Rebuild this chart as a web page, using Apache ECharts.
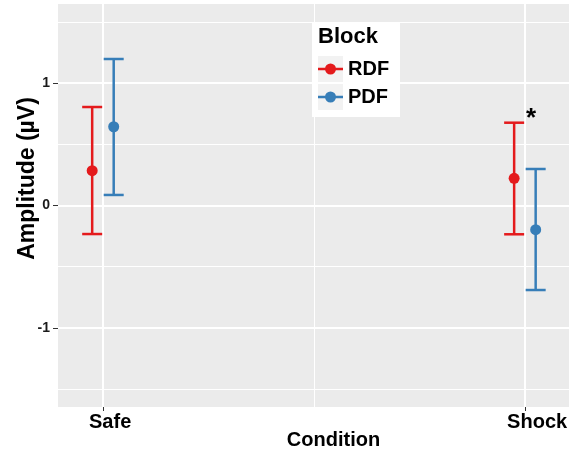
<!DOCTYPE html>
<html>
<head>
<meta charset="utf-8">
<title>Amplitude by condition</title>
<script src="https://cdn.jsdelivr.net/npm/echarts@6/dist/echarts.min.js"></script>
<style>
html, body { margin: 0; padding: 0; background: #fff; }
#chart { width: 571px; height: 450px; }
</style>
</head>
<body>
<div id="chart"></div>
<script>
// values
const conditions = ['Safe', 'Shock'];
const blocks = ['RDF', 'PDF'];
const rdfMean = [0.284, 0.222];
const rdfLow = [-0.233, -0.235];
const rdfHigh = [0.804, 0.676];
const pdfMean = [0.643, -0.197];
const pdfLow = [0.086, -0.69];
const pdfHigh = [1.196, 0.298];
const yTicks = [-1, 0, 1];
const yMinor = [-1.5, -0.5, 0.5, 1.5];
const xTicks = [1, 2];
const xMinor = [1.5];
// significance marks
const marks = [{ cond: 'Shock', text: '*', y: 0.71 }];

const colors = { RDF: '#E41A1C', PDF: '#377EB8' };
const dodge = { RDF: -0.026, PDF: 0.025 };
const font = "'Liberation Sans', Arial, sans-serif";
const stats = {
  RDF: { mean: rdfMean, low: rdfLow, high: rdfHigh },
  PDF: { mean: pdfMean, low: pdfLow, high: pdfHigh }
};
const xPos = c => conditions.indexOf(c) + 1;
const xMin = 0.893, xMax = 2.104, yMin = -1.645, yMax = 1.645;

function errorbarItem(params, api) {
  const x = api.value(0);
  const lo = api.coord([x, api.value(1)]);
  const hi = api.coord([x, api.value(2)]);
  const half = 10;
  const style = { stroke: api.visual('color'), lineWidth: 2.5, fill: null };
  return {
    type: 'group',
    children: [
      { type: 'line', shape: { x1: lo[0], y1: lo[1], x2: hi[0], y2: hi[1] }, style },
      { type: 'line', shape: { x1: hi[0] - half, y1: hi[1], x2: hi[0] + half, y2: hi[1] }, style },
      { type: 'line', shape: { x1: lo[0] - half, y1: lo[1], x2: lo[0] + half, y2: lo[1] }, style }
    ]
  };
}

const series = [];
blocks.forEach(b => {
  const s = stats[b];
  series.push({
    name: b,
    type: 'custom',
    renderItem: errorbarItem,
    itemStyle: { color: colors[b] },
    encode: { x: 0, y: [1, 2] },
    data: conditions.map((c, i) => [xPos(c) + dodge[b], s.low[i], s.high[i]]),
    z: 2
  });
  series.push({
    name: b,
    type: 'scatter',
    symbolSize: 11,
    itemStyle: { color: colors[b], opacity: 1 },
    data: conditions.map((c, i) => [xPos(c) + dodge[b], s.mean[i]]),
    z: 3
  });
});
series[1].markPoint = {
  symbol: 'circle',
  symbolSize: 1,
  itemStyle: { color: 'transparent' },
  label: {
    show: true, position: 'inside', offset: [6, 0],
    formatter: p => p.name,
    fontFamily: font, fontSize: 26, fontWeight: 'bold', color: '#000'
  },
  data: marks.map(m => ({ name: m.text, coord: [xPos(m.cond), m.y] }))
};

const boldText = { fontFamily: font, fontWeight: 'bold', color: '#000' };

const option = {
  animation: false,
  grid: {
    left: 58, top: 4, right: 2, bottom: 43,
    outerBoundsMode: 'none', containLabel: false,
    show: true, backgroundColor: '#EBEBEB', borderWidth: 0
  },
  title: {
    text: 'Block', left: 318, top: 26, padding: 0,
    textStyle: Object.assign({ fontSize: 22 }, boldText)
  },
  legend: {
    orient: 'vertical', left: 318, top: 56, padding: 0, itemGap: 2,
    itemWidth: 25, itemHeight: 11, data: blocks, selectedMode: false,
    icon: 'path://M0,4.3H25V6.7H0Z M7,5.5A5.5,5.5 0 1 1 18,5.5A5.5,5.5 0 1 1 7,5.5Z',
    textStyle: Object.assign({ fontSize: 20, lineHeight: 26 }, boldText),
    z: 4
  },
  graphic: [
    { type: 'rect', left: 312, top: 23, shape: { width: 88, height: 94 }, style: { fill: '#fff' }, z: 1 }
  ].concat(blocks.map((b, i) => ({
    type: 'rect', left: 318, top: 56 + 28 * i, shape: { width: 25, height: 26 },
    style: { fill: '#F2F2F2' }, z: 1, z2: 1
  }))),
  xAxis: [{
    type: 'value', min: xMin, max: xMax,
    name: 'Condition', nameLocation: 'middle', nameGap: 23, nameMoveOverlap: false,
    nameTextStyle: Object.assign({ fontSize: 20, padding: [0, 0, 0, 40] }, boldText),
    axisLine: { show: false, onZero: false },
    axisTick: { show: true, length: 4, customValues: xTicks, lineStyle: { color: '#333', width: 1 } },
    axisLabel: {
      customValues: xTicks, margin: 5,
      formatter: v => '{c' + v + '|' + conditions[v - 1] + '}',
      rich: {
        c1: Object.assign({ fontSize: 20, padding: [0, 0, 0, 14] }, boldText),
        c2: Object.assign({ fontSize: 20, padding: [0, 0, 0, 24] }, boldText)
      }
    },
    splitLine: { show: true, lineStyle: { color: '#fff', width: 2 } }
  }, {
    type: 'value', min: xMin, max: xMax, position: 'top',
    axisLine: { show: false, onZero: false },
    axisTick: { show: false, customValues: xMinor },
    axisLabel: { show: false, customValues: xMinor },
    splitLine: { show: true, lineStyle: { color: '#fff', width: 1 } }
  }],
  yAxis: [{
    type: 'value', min: yMin, max: yMax,
    name: 'Amplitude (µV)', nameLocation: 'middle', nameGap: 19, nameMoveOverlap: false,
    nameTextStyle: Object.assign({ fontSize: 23, padding: [0, 0, 0, 54] }, boldText),
    axisLine: { show: false, onZero: false },
    axisTick: { show: true, length: 5, customValues: yTicks, lineStyle: { color: '#333', width: 1 } },
    axisLabel: { customValues: yTicks, margin: 8, fontFamily: font, fontSize: 14, fontWeight: 'bold', color: '#1a1a1a' },
    splitLine: { show: true, lineStyle: { color: '#fff', width: 2 } }
  }, {
    type: 'value', min: yMin, max: yMax, position: 'right',
    axisLine: { show: false, onZero: false },
    axisTick: { show: false, customValues: yMinor },
    axisLabel: { show: false, customValues: yMinor },
    splitLine: { show: true, lineStyle: { color: '#fff', width: 1 } }
  }],
  series: series
};

const chart = echarts.init(document.getElementById('chart'));
chart.setOption(option);
</script>
</body>
</html>
